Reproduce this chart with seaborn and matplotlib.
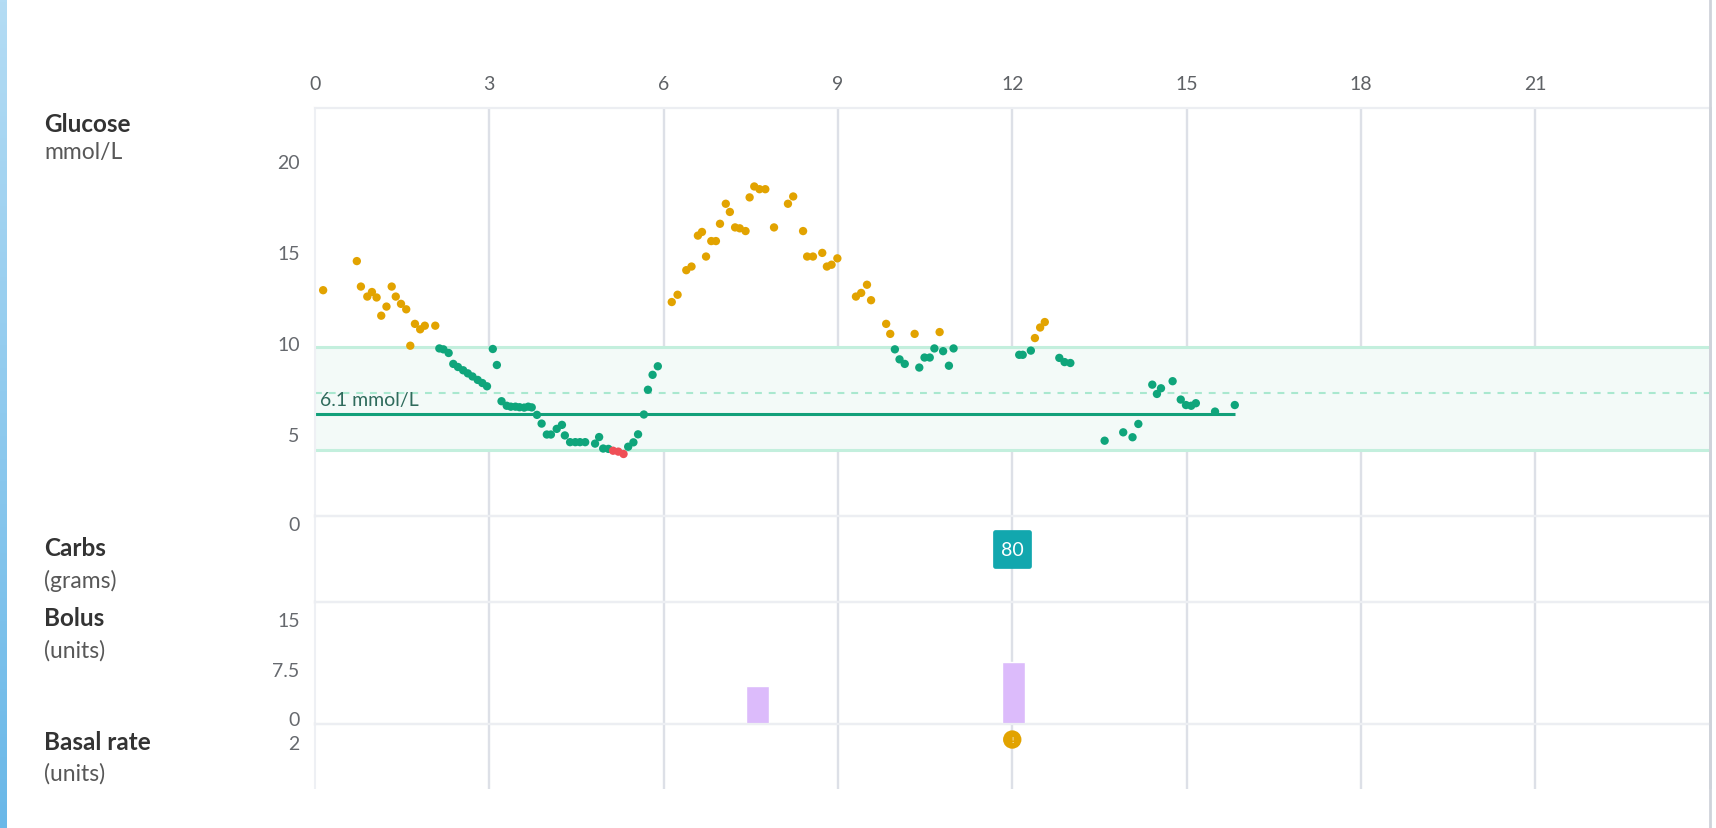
import numpy as np
import pandas as pd
import matplotlib
matplotlib.use("Agg")
import matplotlib.pyplot as plt
import seaborn as sns
from matplotlib.transforms import ScaledTranslation
from matplotlib.patches import Rectangle
from matplotlib.lines import Line2D
from matplotlib.colors import LinearSegmentedColormap

# ---------------- data ----------------
glucose_hours = [0.14, 0.72, 0.79, 0.90, 0.98, 1.06, 1.14, 1.23, 1.32, 1.39, 1.48, 1.57,
                 1.64, 1.72, 1.81, 1.89, 2.07, 2.14, 2.21, 2.30, 2.38, 2.46, 2.55, 2.63,
                 2.71, 2.80, 2.88, 2.96, 3.06, 3.13, 3.21, 3.30, 3.37, 3.45, 3.52, 3.60,
                 3.67, 3.73, 3.82, 3.90, 3.99, 4.06, 4.16, 4.25, 4.30, 4.39, 4.48, 4.56,
                 4.65, 4.82, 4.89, 4.96, 5.05, 5.13, 5.22, 5.31, 5.39, 5.48, 5.56, 5.66,
                 5.73, 5.81, 5.90, 6.14, 6.24, 6.39, 6.48, 6.59, 6.66, 6.73, 6.82, 6.90,
                 6.97, 7.07, 7.14, 7.23, 7.31, 7.41, 7.48, 7.56, 7.65, 7.75, 7.90, 8.14,
                 8.23, 8.40, 8.47, 8.57, 8.73, 8.81, 8.89, 8.99, 9.31, 9.40, 9.50, 9.57,
                 9.83, 9.90, 9.98, 10.06, 10.15, 10.32, 10.40, 10.49, 10.58, 10.66, 10.75,
                 10.81, 10.91, 10.99, 12.12, 12.18, 12.32, 12.39, 12.48, 12.56, 12.81,
                 12.90, 13.00, 13.59, 13.91, 14.07, 14.17, 14.41, 14.49, 14.56, 14.76,
                 14.90, 14.99, 15.08, 15.16, 15.49, 15.83]
glucose_values = [12.9, 14.5, 13.1, 12.55, 12.8, 12.5, 11.5, 12.0, 13.1, 12.55, 12.15, 11.85,
                  9.85, 11.05, 10.75, 10.95, 10.95, 9.7, 9.65, 9.45, 8.85, 8.68, 8.5, 8.33,
                  8.16, 7.97, 7.8, 7.62, 9.67, 8.79, 6.8, 6.55, 6.5, 6.5, 6.47, 6.45,
                  6.5, 6.46, 6.05, 5.57, 4.97, 4.97, 5.28, 5.5, 4.92, 4.55, 4.55, 4.55,
                  4.55, 4.47, 4.83, 4.2, 4.18, 4.08, 4.03, 3.9, 4.3, 4.54, 4.98, 6.07,
                  7.43, 8.25, 8.72, 12.25, 12.65, 14.0, 14.2, 15.9, 16.1, 14.75, 15.6, 15.6,
                  16.55, 17.65, 17.2, 16.35, 16.3, 16.15, 18.0, 18.6, 18.45, 18.45, 16.35, 17.65,
                  18.05, 16.15, 14.75, 14.75, 14.95, 14.2, 14.3, 14.65, 12.55, 12.75, 13.2, 12.35,
                  11.05, 10.5, 9.65, 9.1, 8.85, 10.5, 8.65, 9.2, 9.2, 9.7, 10.6,
                  9.55, 8.75, 9.7, 9.35, 9.35, 9.58, 10.27, 10.85, 11.15, 9.18,
                  8.95, 8.9, 4.63, 5.09, 4.82, 5.55, 7.71, 7.2, 7.51, 7.9,
                  6.89, 6.59, 6.55, 6.69, 6.23, 6.59]

target_low = 4.12
target_high = 9.76
target_mid = 7.25
mean_glucose = 6.1
mean_label = "6.1 mmol/L"

carb_hours = [12.0]
carb_grams = [80]

bolus_hours = [7.62, 12.02]
bolus_units = [5.8, 9.4]

basal_hours = [12.0]
basal_units = [2.04]

hour_ticks = [0, 3, 6, 9, 12, 15, 18, 21]
glucose_ticks = [5, 10, 15, 20]
bolus_ticks = [0, 7.5, 15]
bolus_tick_labels = ["0", "7.5", "15"]
basal_ticks = [1, 2]

panel_titles = [("Glucose", "mmol/L"), ("Carbs", "(grams)"),
                ("Bolus", "(units)"), ("Basal rate", "(units)")]

# ---------------- style ----------------
sns.set_theme(style="white")
plt.rcParams["font.family"] = ["Lato", "DejaVu Sans"]

W, H = 1716, 829
fig = plt.figure(figsize=(W / 100, H / 100), dpi=100)
fig.patch.set_facecolor("white")

X0, X1 = 315, 1709.5


def rect(top, bottom):
    return [X0 / W, 1 - bottom / H, (X1 - X0) / W, (bottom - top) / H]


ax_g = fig.add_axes(rect(109.4, 516.5))
ax_c = fig.add_axes(rect(516.5, 603))
ax_b = fig.add_axes(rect(603, 725))
ax_r = fig.add_axes(rect(725, 829))

TICK_COLOR = "#66696e"
GRID = "#dde0e7"
SEP = "#eceef2"

for ax in (ax_g, ax_c, ax_b, ax_r):
    ax.set_xlim(0, 24)
    ax.set_facecolor("none")
    for h in hour_ticks[1:]:
        ax.axvline(h, color=GRID, lw=1.7, zorder=0)
    ax.spines["left"].set_color("#eef0f4")
    ax.spines["left"].set_linewidth(1.5)
    ax.spines["right"].set_color("#cfd3da")
    ax.spines["right"].set_linewidth(2)
    ax.spines["top"].set_color(SEP)
    ax.spines["top"].set_linewidth(1.6)
    ax.spines["bottom"].set_color(SEP)
    ax.spines["bottom"].set_linewidth(1.6)
    ax.tick_params(axis="both", length=0, labelsize=14, labelcolor=TICK_COLOR, pad=11)
    ax.set_xlabel("")
    ax.set_ylabel("")

ax_r.spines["bottom"].set_visible(False)

# ---------------- glucose ----------------
gdf = pd.DataFrame({"hour": glucose_hours, "glucose": glucose_values})
gdf["range"] = np.where(gdf["glucose"] > target_high, "high",
                        np.where(gdf["glucose"] < target_low, "low", "in range"))
palette = {"high": "#e2a300", "in range": "#0fa57b", "low": "#ef4f56"}

ax_g.axhspan(target_low, target_high, color="#f3faf8", lw=0, zorder=0.5)
ax_g.axhline(target_high, color="#c3efdd", lw=2.2, zorder=1)
ax_g.axhline(target_low, color="#c3efdd", lw=2.2, zorder=1)
ax_g.axhline(target_mid, color="#a9e8cf", lw=1.5, ls=(0, (3.3, 3.3)), zorder=1)
ax_g.hlines(mean_glucose, 0, max(glucose_hours), color="#12a07a", lw=2.2, zorder=2)
ax_g.text(0.08, mean_glucose + 0.5, mean_label, color="#2f6b5c", fontsize=14,
          va="baseline", ha="left", zorder=3)

sns.scatterplot(data=gdf, x="hour", y="glucose", hue="range", palette=palette,
                s=36, edgecolor="none", legend=False, ax=ax_g, zorder=4)
ax_g.set_xlim(0, 24)
ax_g.set_ylim(0.52, 22.89)
ax_g.set_yticks(glucose_ticks)
ax_g.set_yticklabels([str(t) for t in glucose_ticks])
ax_g.xaxis.tick_top()
ax_g.set_xticks(hour_ticks)
ax_g.set_xticklabels([str(t) for t in hour_ticks])
ax_g.tick_params(axis="x", pad=12, labelcolor="#5f6266")
ax_g.tick_params(axis="y", pad=11)
ax_g.set_xlabel("")
ax_g.set_ylabel("")
# glucose "0" tick label that sits just under the panel
ax_g.text(0, 0, "0", transform=ax_g.get_yaxis_transform() +
          ScaledTranslation(-15 / 100, 0, fig.dpi_scale_trans),
          ha="right", va="center", fontsize=14, color=TICK_COLOR, clip_on=False)

# ---------------- carbs ----------------
cdf = pd.DataFrame({"hour": carb_hours, "grams": carb_grams})
cdf["row"] = 0.607
ax_c.set_ylim(0, 1)
sns.scatterplot(data=cdf, x="hour", y="row", marker="s", s=620, color="#12a7ae",
                edgecolor="#12a7ae", linewidth=3.4, joinstyle="round", legend=False,
                ax=ax_c, zorder=4)
for h, g, r in zip(cdf["hour"], cdf["grams"], cdf["row"]):
    ax_c.text(h, r, str(g), color="white", fontsize=14, ha="center", va="center",
              zorder=5)
ax_c.set_xlim(0, 24)
ax_c.set_ylim(0, 1)
ax_c.set_yticks([])
ax_c.set_xticks([])
ax_c.set_xlabel("")
ax_c.set_ylabel("")

# ---------------- bolus ----------------
bdf = pd.DataFrame({"hour": bolus_hours, "units": bolus_units})
bar_w = 0.40 / (bolus_hours[1] - bolus_hours[0])
sns.barplot(data=bdf, x="hour", y="units", native_scale=True, width=bar_w,
            color="#dcbbfb", saturation=1, errorbar=None, ax=ax_b, zorder=3)
ax_b.set_xlim(0, 24)
ax_b.set_ylim(0, 18.4)
ax_b.set_yticks(bolus_ticks)
ax_b.set_yticklabels(bolus_tick_labels)
ax_b.set_xticks([])
ax_b.set_xlabel("")
ax_b.set_ylabel("")
ax_b.tick_params(axis="y", length=0, labelsize=14, labelcolor=TICK_COLOR, pad=11)
for lbl in ax_b.get_yticklabels():
    lbl.set_transform(lbl.get_transform() + ScaledTranslation(0, 5.7 / 100, fig.dpi_scale_trans))

# ---------------- basal ----------------
rdf = pd.DataFrame({"hour": basal_hours, "units": basal_units})
sns.scatterplot(data=rdf, x="hour", y="units", color="#e2a300", s=175,
                edgecolor="none", ax=ax_r, zorder=4, legend=False)
for h, u in zip(basal_hours, basal_units):
    ax_r.text(h, u, "!", color="white", fontsize=6, ha="center", va="center", zorder=5)
ax_r.set_xlim(0, 24)
ax_r.set_ylim(0.411, 2.326)
ax_r.set_yticks(basal_ticks)
ax_r.set_yticklabels([str(t) for t in basal_ticks])
ax_r.set_xticks([])
ax_r.set_xlabel("")
ax_r.set_ylabel("")
ax_r.tick_params(axis="y", length=0, labelsize=14, labelcolor=TICK_COLOR, pad=11)

# ---------------- left titles ----------------
title_y = [(125, 153), (549, 581), (619, 651), (743, 774)]
for (t, sub), (y1, y2) in zip(panel_titles, title_y):
    fig.text(44 / W, 1 - y1 / H, t, fontsize=17.5, fontweight="bold", color="#333333",
             ha="left", va="center")
    fig.text(44 / W, 1 - y2 / H, sub, fontsize=16.5, color="#585858",
             ha="left", va="center")

# ---------------- frame decorations ----------------
fig.patches.append(Rectangle((7 / W, 0), 1, (829 - 790) / H, transform=fig.transFigure,
                             fc="white", ec="none", zorder=10))
fig.lines.append(Line2D([1710 / W, 1710 / W], [0, 1], transform=fig.transFigure,
                        color="#cfd3da", lw=2, zorder=11))
ax_s = fig.add_axes([0, 0, 7 / W, 1], zorder=12)
grad = np.linspace(0, 1, 256).reshape(-1, 1)
cmap = LinearSegmentedColormap.from_list("stripe", ["#b4dcf4", "#6ab8e8"])
ax_s.imshow(grad, aspect="auto", cmap=cmap, extent=[0, 1, 0, 1], origin="upper")
ax_s.set_axis_off()

fig.savefig("out.png", dpi=100, facecolor="white")
